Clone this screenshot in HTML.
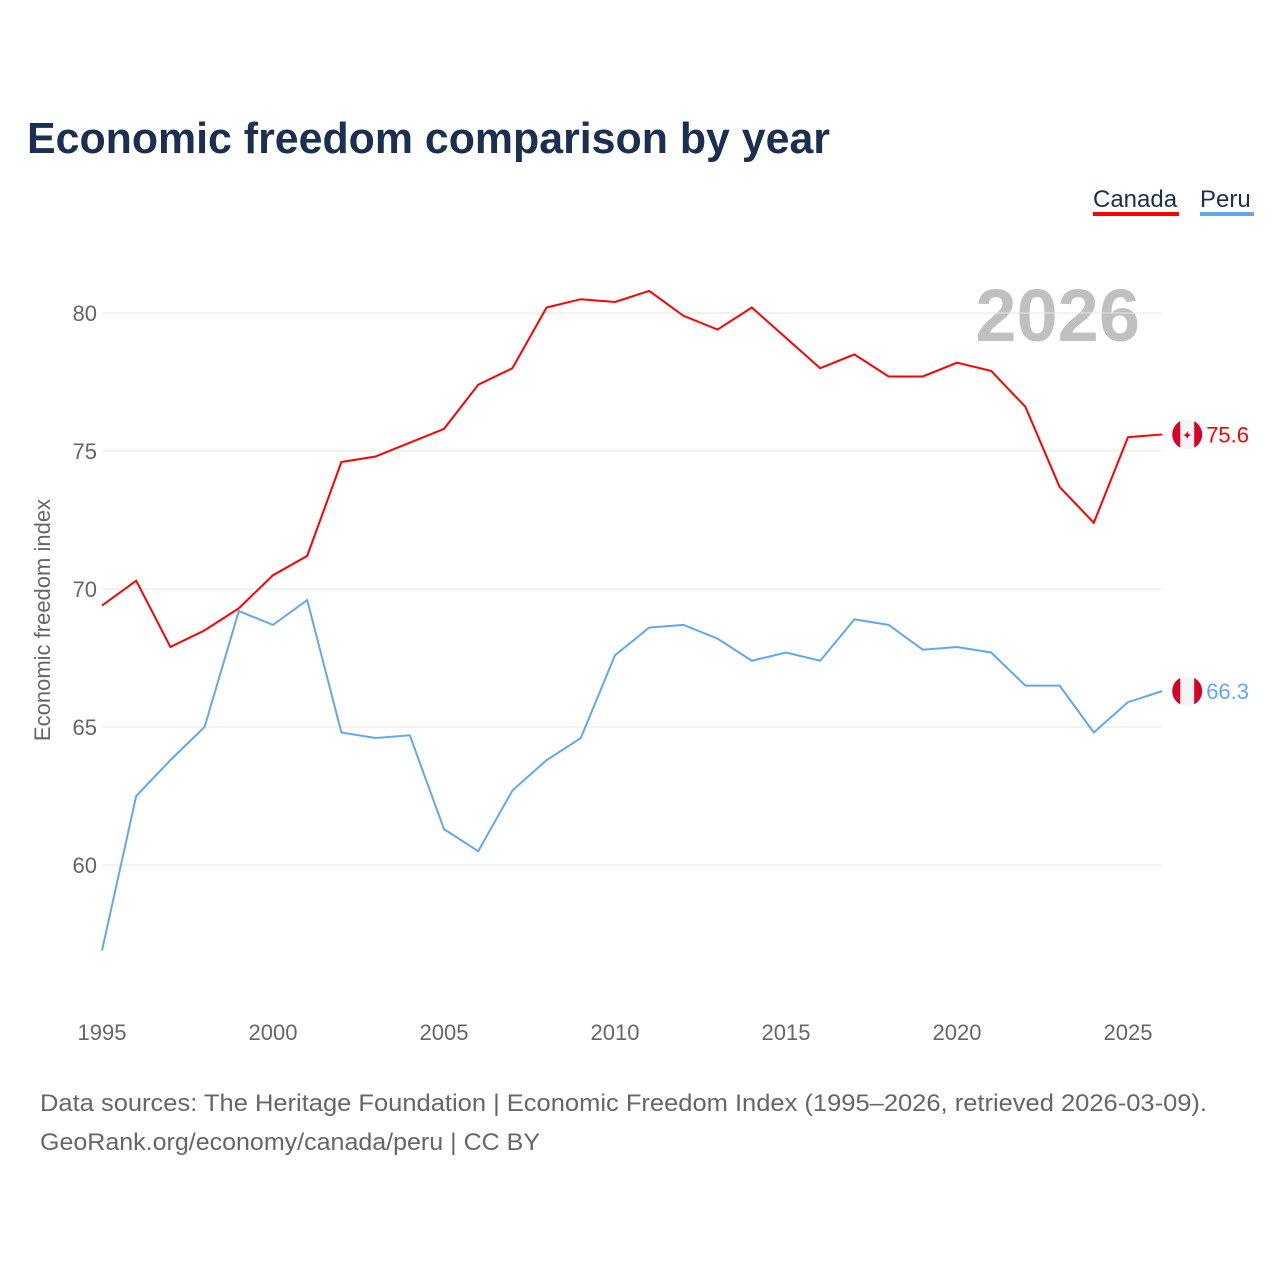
<!DOCTYPE html>
<html><head><meta charset="utf-8"><style>
body{margin:0;background:#fff;font-family:"Liberation Sans",sans-serif;}
#wrap{position:relative;width:1280px;height:1280px;}
</style></head><body>
<div id="wrap">
<svg id="chart" width="1280" height="1280" font-family="Liberation Sans, sans-serif">
<defs id="defs"></defs>
<text x="27" y="153" font-size="44" font-weight="bold" fill="#1b2f50" textLength="803" lengthAdjust="spacingAndGlyphs">Economic freedom comparison by year</text>
<g><text x="1093" y="207" font-size="24" fill="#1b2f50">Canada</text><rect x="1093" y="212" width="86" height="4" fill="#ff0000"/></g>
<g><text x="1200" y="207" font-size="24" fill="#1b2f50">Peru</text><rect x="1200" y="212" width="54" height="4" fill="#62a8ea"/></g>
<text x="1140" y="341" font-size="74" font-weight="bold" fill="#c0c0c0" text-anchor="end">2026</text>
<text transform="translate(50,620) rotate(-90)" font-size="22" fill="#666" text-anchor="middle">Economic freedom index</text>
<g id="grid"></g><g id="series"></g>
<text x="40" y="1111" font-size="24" fill="#666" textLength="1167" lengthAdjust="spacingAndGlyphs">Data sources: The Heritage Foundation | Economic Freedom Index (1995–2026, retrieved 2026-03-09).</text>
<text x="40" y="1150" font-size="24" fill="#666" textLength="500" lengthAdjust="spacingAndGlyphs">GeoRank.org/economy/canada/peru | CC BY</text>
</svg></div>
<script>
const years=[1995,1996,1997,1998,1999,2000,2001,2002,2003,2004,2005,2006,2007,2008,2009,2010,2011,2012,2013,2014,2015,2016,2017,2018,2019,2020,2021,2022,2023,2024,2025,2026];
const canada=[69.4,70.3,67.9,68.5,69.3,70.5,71.2,74.6,74.8,75.3,75.8,77.4,78.0,80.2,80.5,80.4,80.8,79.9,79.4,80.2,79.1,78.0,78.5,77.7,77.7,78.2,77.9,76.6,73.7,72.4,75.5,75.6];
const peru=[56.9,62.5,63.8,65.0,69.2,68.7,69.6,64.8,64.6,64.7,61.3,60.5,62.7,63.8,64.6,67.6,68.6,68.7,68.2,67.4,67.7,67.4,68.9,68.7,67.8,67.9,67.7,66.5,66.5,64.8,65.9,66.3];
const yTicks=[60,65,70,75,80];
const xTicks=[1995,2000,2005,2010,2015,2020,2025];
const NS="http://www.w3.org/2000/svg";
function xs(y){return 102+(y-1995)*(1128-102)/30;}
function ys(v){return 313+(80-v)*27.6;}
function mk(t,a,p){const e=document.createElementNS(NS,t);for(const k in a)e.setAttribute(k,a[k]);p.appendChild(e);return e;}
const grid=document.getElementById('grid'),ser=document.getElementById('series'),defs=document.getElementById('defs');
yTicks.forEach(v=>{
 const l=mk('line',{x1:102,x2:1162,y1:ys(v),y2:ys(v),stroke:'#e6e6e6','stroke-width':1},grid);
 
 
 const t=mk('text',{x:97,y:ys(v)+8,'font-size':22,fill:'#666','text-anchor':'end'},grid);t.textContent=v;
 
 
});
xTicks.forEach(v=>{
 const t=mk('text',{x:xs(v),y:1040,'font-size':22,fill:'#666','text-anchor':'middle'},grid);t.textContent=v;
 
 
});
function line(vals,col,name,flag){
 const d=vals.map((v,i)=>(i?'L':'M')+xs(years[i])+','+ys(v)).join(' ');
 const p=mk('path',{d:d,fill:'none',stroke:col,'stroke-width':2},ser);
 
 
 const last=vals[vals.length-1],ly=ys(last),lx=xs(years[years.length-1]);
 const cp=mk('clipPath',{id:'clip-'+name},defs);
 mk('circle',{cx:lx+25,cy:ly,r:15},cp);
 const g=mk('g',{'clip-path':'url(#clip-'+name+')'},ser);
 
 
 mk('rect',{x:lx+10,y:ly-15,width:30,height:30,fill:'#f4f4f4'},g);
 mk('rect',{x:lx+8,y:ly-15,width:10,height:30,fill:'#d80027'},g);
 mk('rect',{x:lx+32,y:ly-15,width:10,height:30,fill:'#d80027'},g);
 if(flag)mk('text',{x:lx+25,y:ly+5,'font-size':12,fill:'#d80027','text-anchor':'middle'},g).textContent='✦';
 const t=mk('text',{x:lx+44,y:ly+8,'font-size':22,fill:col},ser);t.textContent=last.toFixed(1);
 
 
}
line(canada,'#ff0000','canada',true);
line(peru,'#62a8ea','peru',false);
</script></body></html>
